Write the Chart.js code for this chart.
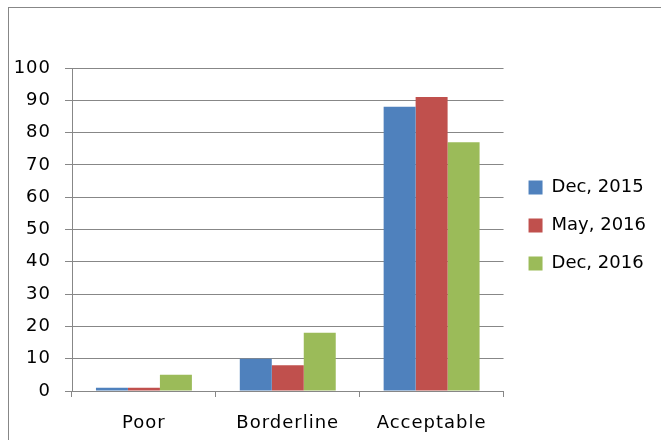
<!DOCTYPE html>
<html>
<head>
<meta charset="utf-8">
<script src="https://cdn.jsdelivr.net/npm/chart.js@4.4.1/dist/chart.umd.min.js"></script>
<style>
  body { margin: 0; background: #fff; }
  #wrap { position: relative; width: 661px; height: 440px; overflow: hidden; }
  #frame { position: absolute; left: 8px; top: 7px; width: 700px; height: 500px;
           border-left: 1px solid #878787; border-top: 1px solid #878787; pointer-events: none; }
</style>
</head>
<body>
<div id="wrap">
  <canvas id="ratingChart" width="661" height="440"></canvas>
  <div id="frame"></div>
</div>
<script>
var categories = ["Poor", "Borderline", "Acceptable"];
var seriesNames = ["Dec, 2015", "May, 2016", "Dec, 2016"];
var dec2015 = [1, 10, 88];
var may2016 = [1, 8, 91];
var dec2016 = [5, 18, 77];
var yTicks = [0, 10, 20, 30, 40, 50, 60, 70, 80, 90, 100];

var seriesColors = ["#4F81BD", "#C0504D", "#9BBB59"];
var gridColor = "#878787";

// axis text in the picture is spaced a bit wider than the legend text
var letterSpacing = {
    id: "letterSpacing",
    afterInit: function (chart) {
        var lg = chart.legend;
        ["fit", "draw"].forEach(function (name) {
            var orig = lg[name].bind(lg);
            lg[name] = function () {
                var old = chart.ctx.letterSpacing;
                chart.ctx.letterSpacing = "0px";
                orig();
                chart.ctx.letterSpacing = old;
            };
        });
    },
    beforeUpdate: function (chart) { chart.ctx.letterSpacing = "1px"; },
    beforeDraw: function (chart) { chart.ctx.letterSpacing = "1px"; },
    afterLayout: function (chart) {
        // nudge legend a little right and up
        chart.legend.left += 5;
        chart.legend.right += 5;
        chart.legend.top -= 4;
        chart.legend.bottom -= 4;
    }
};

var ctx = document.getElementById("ratingChart");
var ratingChart = new Chart(ctx, {
    type: "bar",
    data: {
        labels: categories,
        datasets: [
            { label: seriesNames[0], data: dec2015, backgroundColor: seriesColors[0] },
            { label: seriesNames[1], data: may2016, backgroundColor: seriesColors[1] },
            { label: seriesNames[2], data: dec2016, backgroundColor: seriesColors[2] }
        ]
    },
    plugins: [letterSpacing],
    options: {
        responsive: false,
        maintainAspectRatio: false,
        animation: false,
        layout: { padding: { top: 68, left: 0, right: 10, bottom: 0 } },
        datasets: { bar: { categoryPercentage: 0.667, barPercentage: 1.0, borderWidth: 0 } },
        font: { family: "'DejaVu Sans', sans-serif", size: 18 },
        color: "#000",
        plugins: {
            tooltip: { enabled: false },
            legend: {
                position: "right",
                fullSize: false,
                labels: {
                    boxWidth: 14,
                    boxHeight: 14,
                    padding: 20,
                    color: "#000",
                    font: { family: "'DejaVu Sans', sans-serif", size: 18 }
                }
            }
        },
        scales: {
            x: {
                grid: { drawOnChartArea: false, color: gridColor, tickLength: 6, tickColor: gridColor },
                border: { color: gridColor, width: 1 },
                ticks: { color: "#000", padding: 16, font: { size: 18 } },
                afterFit: function (scale) { scale.height = 49; }
            },
            y: {
                min: 0,
                max: 100,
                afterBuildTicks: function (scale) {
                    scale.ticks = yTicks.map(function (v) { return { value: v }; });
                },
                grid: { color: gridColor, tickLength: 7, tickColor: gridColor },
                border: { color: gridColor, width: 1 },
                ticks: { color: "#000", padding: 14, font: { size: 18 } },
                afterFit: function (scale) { scale.width = 72; }
            }
        }
    }
});
</script>
</body>
</html>
